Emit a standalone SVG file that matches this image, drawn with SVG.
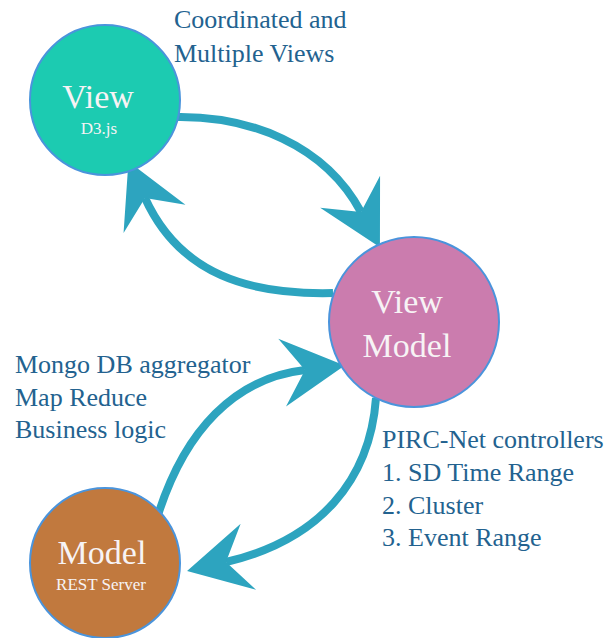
<svg xmlns="http://www.w3.org/2000/svg" width="608" height="638" viewBox="0 0 608 638">
  <style>
    .node { stroke: #4a94dc; stroke-width: 2; }
    text { font-family: 'Liberation Serif', 'Times New Roman', 'DejaVu Serif', serif; }
    .title { font-size: 34px; fill: #f7f3f5; text-anchor: middle; }
    .sub { font-size: 17px; fill: #f7f3f5; text-anchor: middle; }
    .note { font-size: 26px; fill: #23628f; }
    .link { fill: none; stroke: #2da4bf; stroke-width: 8; stroke-linecap: butt; marker-end: url(#head); }
  </style>
  <defs>
    <!-- stealth-style arrowhead; origin sits at the notch where the shaft ends -->
    <marker id="head" viewBox="-25 -36 68 72" refX="0" refY="0" markerWidth="68" markerHeight="72" markerUnits="userSpaceOnUse" orient="auto">
      <path d="M40,0 L-23,-34 L0,0 L-23,34 Z" fill="#2da4bf"/>
    </marker>
  </defs>

  <rect width="608" height="638" fill="#ffffff"/>

  <g id="connectors">
    <path class="link" d="M173,117 C250,115 325,145 361,212"/>
    <path class="link" d="M333,293 C250,295 180,275 145,198"/>
    <path class="link" d="M158,515 C185,430 235,378 305,370"/>
    <path class="link" d="M376,398 C370,480 320,540 226,562"/>
  </g>

  <g id="view" font-family="Liberation Serif, serif">
    <circle class="node" cx="105" cy="100" r="75" fill="#1ccbb1"/>
    <text class="title" x="98" y="108">View</text>
    <text class="sub" x="99" y="134">D3.js</text>
  </g>

  <g id="view-model" font-family="Liberation Serif, serif">
    <circle class="node" cx="414" cy="322" r="85" fill="#cb7cae"/>
    <text class="title" x="407" y="313">View</text>
    <text class="title" x="407" y="357">Model</text>
  </g>

  <g id="model" font-family="Liberation Serif, serif">
    <circle class="node" cx="105" cy="563" r="75" fill="#c1793e"/>
    <text class="title" x="102" y="564">Model</text>
    <text class="sub" x="101" y="590">REST Server</text>
  </g>

  <g id="labels" font-family="Liberation Serif, serif">
    <text class="note" x="174" y="28">Coordinated and</text>
    <text class="note" x="174" y="62">Multiple Views</text>
    <text class="note" x="15" y="373">Mongo DB aggregator</text>
    <text class="note" x="15" y="406">Map Reduce</text>
    <text class="note" x="15" y="438">Business logic</text>
    <text class="note" x="382" y="448">PIRC-Net controllers</text>
    <text class="note" x="382" y="481">1. SD Time Range</text>
    <text class="note" x="382" y="514">2. Cluster</text>
    <text class="note" x="382" y="546">3. Event Range</text>
  </g>
</svg>
